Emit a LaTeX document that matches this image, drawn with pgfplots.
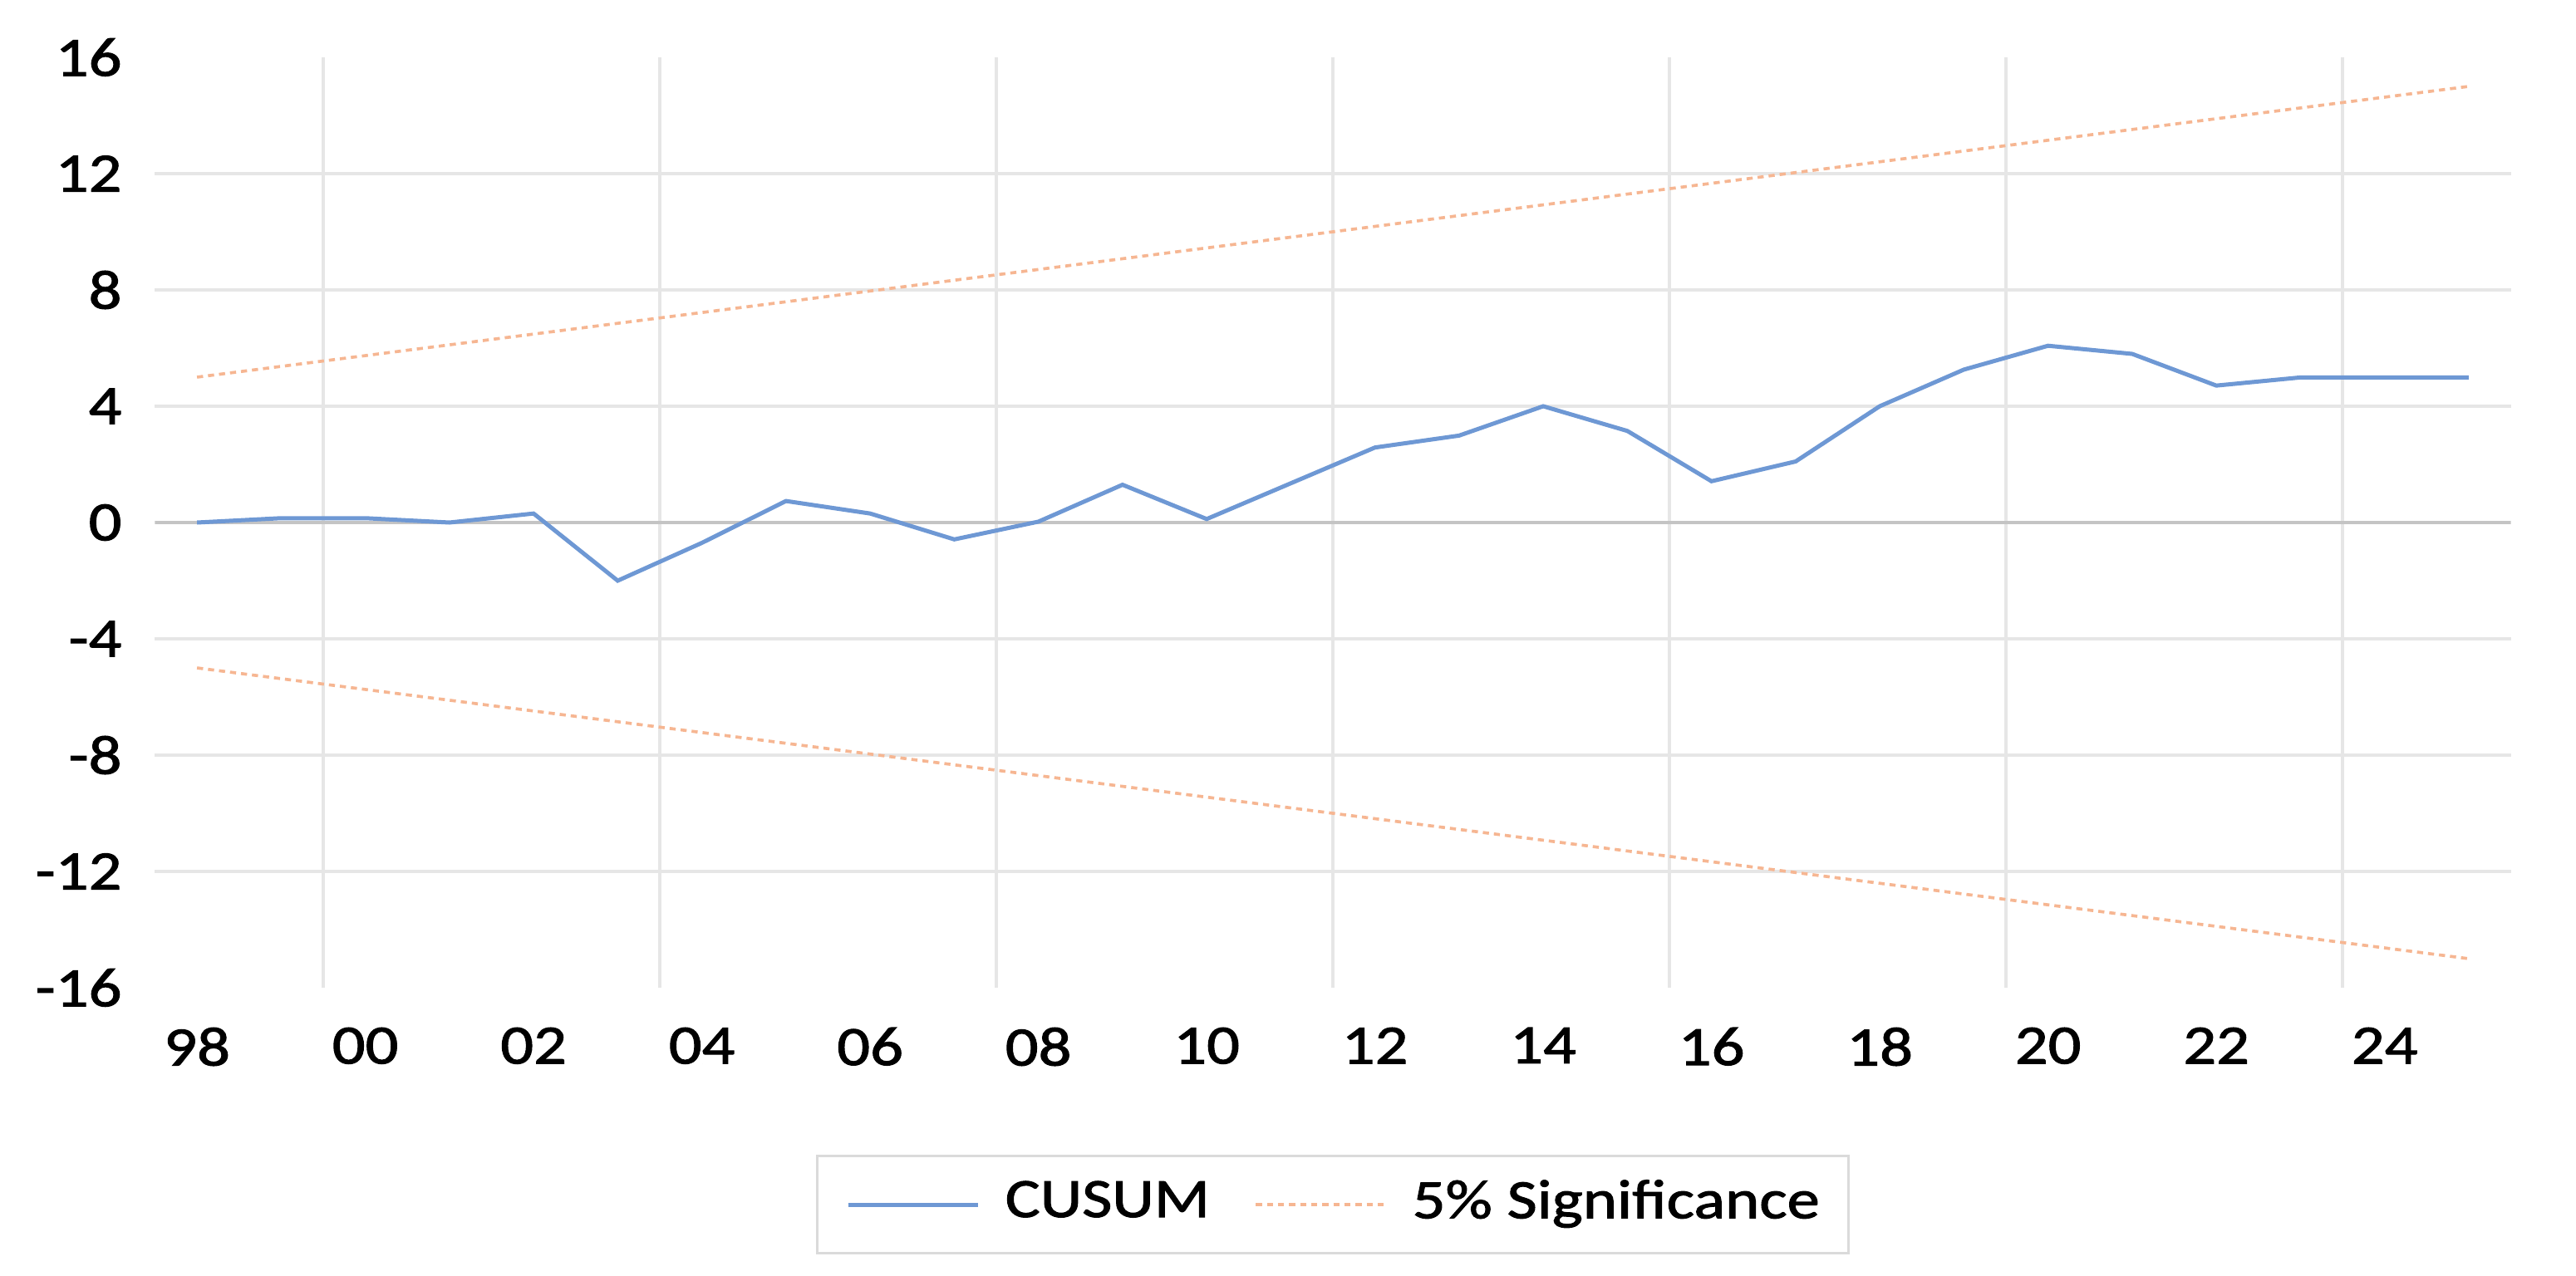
\documentclass[border=0pt]{standalone}
\usepackage{fontspec}
\setmainfont{Carlito}[FakeStretch=1.18, FakeBold=1.6]
\usepackage{pgfplots}
\pgfplotsset{compat=1.18}
\definecolor{cusum}{RGB}{110,152,212}
\definecolor{sig}{RGB}{246,182,146}
\definecolor{gridc}{RGB}{230,230,230}
\definecolor{zeroc}{RGB}{196,196,196}
\definecolor{legc}{RGB}{218,218,218}
\begin{document}
\begin{tikzpicture}
\path[use as bounding box] (-27.975pt,-51.9pt) rectangle (437.025pt,178.35pt);
\begin{axis}[
  at={(0pt,0pt)}, anchor=south west,
  scale only axis, width=425.25pt, height=168pt,
  xmin=1997.5, xmax=2025.5, ymin=-16, ymax=16,
  axis line style={draw=none},
  major tick length=0pt,
  tick style={draw=none},
  xtick={1998,2000,...,2024},
  xticklabels={98,00,02,04,06,08,10,12,14,16,18,20,22,24},
  ytick={-16,-12,...,16},
  yticklabels={-16,-12,-8,-4,0,4,8,12,16},
  xticklabel style={anchor=north, inner sep=0pt, yshift=-7.0pt},
  yticklabel style={anchor=east, inner sep=0pt, xshift=-5.8pt},
  extra x ticks={1999.5,2003.5,2007.5,2011.5,2015.5,2019.5,2023.5},
  extra x tick labels={},
  extra x tick style={grid=major},
  extra y ticks={-12,-8,-4,4,8,12},
  extra y tick labels={},
  extra y tick style={grid=major},
  major grid style={draw=gridc, line width=0.65pt},
  legend columns=2,
  legend style={at={(0.5,-0.17946)}, anchor=north, draw=legc, line width=0.5pt,
    inner xsep=5.2pt, inner ysep=4.3pt, column sep=4.6pt,
    nodes={inner sep=0pt, text depth=0.2em},
    /tikz/every even column/.append style={column sep=8pt}},
  legend image code/.code={\draw[#1] (0pt,0pt) -- (23.4pt,0pt);},
]
\addplot[draw=zeroc, line width=0.6pt, forget plot] coordinates {(1997.5,0) (2025.5,0)};
\addplot[draw=cusum, line width=0.75pt] coordinates {
(1998,0.00) (1999,0.15) (2000,0.15) (2001,0.00) (2002,0.31) (2003,-2.00)
(2004,-0.70) (2005,0.74) (2006,0.31) (2007,-0.58) (2008,0.03) (2009,1.30)
(2010,0.12) (2011,1.35) (2012,2.58) (2013,2.99) (2014,4.00) (2015,3.15)
(2016,1.42) (2017,2.10) (2018,4.00) (2019,5.26) (2020,6.08) (2021,5.80)
(2022,4.71) (2023,4.99) (2024,4.99) (2025,4.99)};
\addlegendentry{CUSUM}
\addplot[draw=sig, line width=0.55pt, dash pattern=on 1.1pt off 0.9pt] coordinates {(1998,5) (2025,15)};
\addlegendentry{5\% Significance}
\addplot[draw=sig, line width=0.55pt, dash pattern=on 1.1pt off 0.9pt, forget plot] coordinates {(1998,-5) (2025,-15)};
\end{axis}
\end{tikzpicture}
\end{document}
